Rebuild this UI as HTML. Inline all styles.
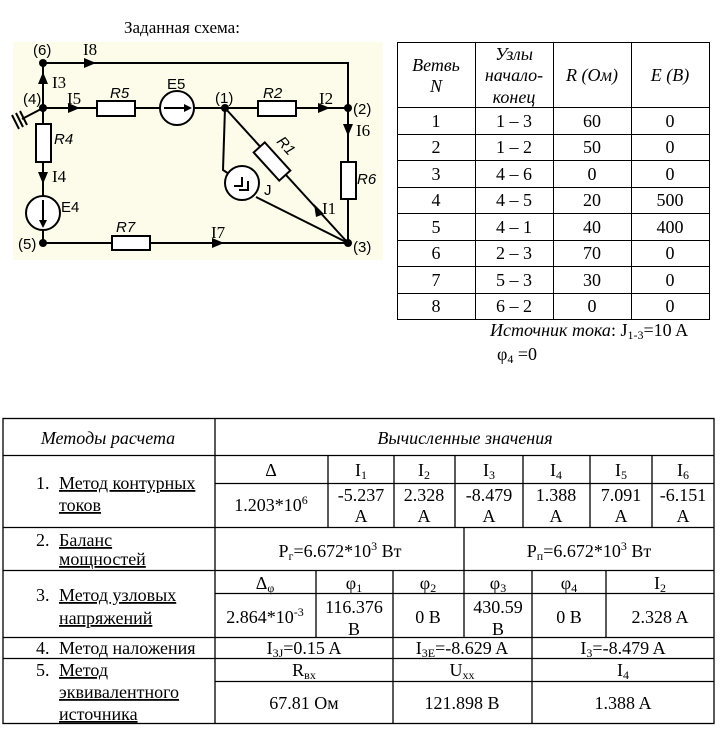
<!DOCTYPE html>
<html><head><meta charset="utf-8"><style>
html,body{margin:0;padding:0;background:#fff;}
svg{display:block;}
.s{font-family:"Liberation Serif","Noto Serif CJK SC",serif;font-size:18px;fill:#000;}
.a{font-family:"Liberation Sans","Noto Sans CJK SC",sans-serif;font-size:15px;fill:#000;}
.i{font-style:italic;}
.sm{font-size:12px;}
</style></head><body>
<svg width="720" height="744" viewBox="0 0 720 744" xmlns="http://www.w3.org/2000/svg">
<text class="s" x="124" y="33" style="font-size:17px">Заданная схема:</text>
<rect x="13" y="42" width="370" height="218" fill="#fdfcea"/>
<g stroke="#000" stroke-width="2" fill="none">
<path d="M43,63 H348 V243 M43,63 V243 H348 M43,108 H348 M225,108 L348,243 M225,108 L223,170 L232,176 M256,197 L348,243"/>
<path d="M43,108 L22,119 M20,111 L27,125 M16,113 L23,127 M12,115 L19,129"/>
</g>
<g fill="#000">
<path d="M84,58 L96,63 L84,68z M38,84 L43,72 L48,84z M68,103 L80,108 L68,113z M318,103 L330,108 L318,113z M343,124 L348,136 L353,124z M38,172 L43,184 L48,172z M212,238 L224,243 L212,248z M314,204 L324,214 L316,217z"/>
<circle cx="43" cy="63" r="4"/><circle cx="43" cy="108" r="4"/><circle cx="43" cy="243" r="4"/><circle cx="225" cy="108" r="4"/><circle cx="348" cy="108" r="4"/><circle cx="348" cy="243" r="4"/>
</g>
<g stroke="#000" stroke-width="2" fill="#fff">
<rect x="97" y="101" width="38" height="15"/>
<rect x="258" y="101" width="38" height="15"/>
<rect x="341" y="162" width="15" height="37"/>
<rect x="36" y="124" width="15" height="38"/>
<rect x="112" y="236" width="38" height="14"/>
<rect x="253" y="154" width="38" height="15" transform="rotate(47.7 272 161.5)"/>
<circle cx="177" cy="108" r="17"/>
<circle cx="43" cy="213" r="17"/>
<circle cx="242" cy="183" r="17"/>
</g>
<g stroke="#000" stroke-width="2" fill="none">
<path d="M164,108 H188 M43,200 V225 M234,186 H242 V177 M239,190 H248 V181"/>
</g>
<path d="M184,104 L192,108 L184,112z M39,220 L43,228 L47,220z" fill="#000"/>
<g class="a">
<text x="33" y="55">(6)</text><text x="23" y="104">(4)</text><text x="18" y="249">(5)</text>
<text x="215" y="103">(1)</text><text x="353" y="114">(2)</text><text x="353" y="252">(3)</text>
<text x="110" y="98" class="i">R5</text><text x="167" y="89">E5</text><text x="263" y="98" class="i">R2</text>
<text x="54" y="144" class="i">R4</text><text x="357" y="184" class="i">R6</text><text x="116" y="232" class="i">R7</text>
<text x="61" y="212">E4</text><text x="264" y="195">J</text>
<text x="0" y="0" class="i" transform="translate(276 142) rotate(47.7)">R1</text>
</g>
<g class="s" style="font-size:17px">
<text x="83" y="55">I8</text><text x="52" y="88">I3</text><text x="67" y="104">I5</text><text x="319" y="104">I2</text>
<text x="356" y="136">I6</text><text x="52" y="182">I4</text><text x="211" y="238">I7</text><text x="322" y="214">I1</text>
</g>
<g stroke="#000" stroke-width="1" fill="none">
<rect x="397.5" y="42.5" width="312" height="277"/>
<path d="M475.5,42 V320 M553.5,42 V320 M631.5,42 V320 M397,107.5 H710 M397,134.5 H710 M397,160.5 H710 M397,187.5 H710 M397,213.5 H710 M397,240.5 H710 M397,266.5 H710 M397,293.5 H710"/>
</g>
<g class="s" text-anchor="middle">
<text x="436" y="71" class="i">Ветвь</text><text x="436" y="92" class="i">N</text>
<text x="514" y="60" class="i">Узлы</text><text x="514" y="81" class="i">начало-</text><text x="514" y="103" class="i">конец</text>
<text x="592" y="81" class="i">R (Ом)</text><text x="670" y="81" class="i">E (B)</text>
<text x="436" y="127">1</text><text x="514" y="127">1 – 3</text><text x="592" y="127">60</text><text x="670" y="127">0</text>
<text x="436" y="153">2</text><text x="514" y="153">1 – 2</text><text x="592" y="153">50</text><text x="670" y="153">0</text>
<text x="436" y="180">3</text><text x="514" y="180">4 – 6</text><text x="592" y="180">0</text><text x="670" y="180">0</text>
<text x="436" y="206">4</text><text x="514" y="206">4 – 5</text><text x="592" y="206">20</text><text x="670" y="206">500</text>
<text x="436" y="233">5</text><text x="514" y="233">4 – 1</text><text x="592" y="233">40</text><text x="670" y="233">400</text>
<text x="436" y="259">6</text><text x="514" y="259">2 – 3</text><text x="592" y="259">70</text><text x="670" y="259">0</text>
<text x="436" y="286">7</text><text x="514" y="286">5 – 3</text><text x="592" y="286">30</text><text x="670" y="286">0</text>
<text x="436" y="312">8</text><text x="514" y="312">6 – 2</text><text x="592" y="312">0</text><text x="670" y="312">0</text>
</g>
<text class="s" x="490" y="336"><tspan font-style="italic">Источник тока</tspan>:  J<tspan class="sm" dy="3">1-3</tspan><tspan dy="-3">=10 A</tspan></text>
<text class="s" x="497" y="360">φ<tspan class="sm" dy="3">4</tspan><tspan dy="-3"> =0</tspan></text>
<g stroke="#000" stroke-width="1.3" fill="none">
<rect x="3" y="418.5" width="711" height="305"/>
<path d="M215,418 V724 M3,455.5 H714 M215,483.5 H714 M3,527.5 H714 M3,570.5 H714 M215,593.5 H714 M3,637.5 H714 M3,658.5 H714 M215,681.5 H714"/>
<path d="M328,455 V527 M394,455 V527 M455,455 V527 M523,455 V527 M590,455 V527 M652,455 V527"/>
<path d="M464,527 V570"/>
<path d="M316,570 V637 M393,570 V637 M464,570 V637 M532,570 V637 M606,570 V637"/>
<path d="M393,637 V724 M532,637 V724"/>
</g>
<g class="s">
<text x="108" y="444" text-anchor="middle" class="i">Методы расчета</text>
<text x="465" y="444" text-anchor="middle" class="i">Вычисленные значения</text>
<text x="36" y="489">1.</text><text x="59" y="489" text-decoration="underline">Метод контурных</text><text x="59" y="511" text-decoration="underline">токов</text>
<text x="36" y="546">2.</text><text x="59" y="546" text-decoration="underline">Баланс</text><text x="59" y="565" text-decoration="underline">мощностей</text>
<text x="36" y="601">3.</text><text x="59" y="601" text-decoration="underline">Метод узловых</text><text x="59" y="624" text-decoration="underline">напряжений</text>
<text x="36" y="654">4.</text><text x="59" y="654">Метод наложения</text>
<text x="36" y="676">5.</text><text x="59" y="676" text-decoration="underline">Метод</text><text x="59" y="698" text-decoration="underline">эквивалентного</text><text x="59" y="720" text-decoration="underline">источника</text>
</g>
<g class="s" text-anchor="middle">
<text x="271" y="476">Δ</text><text x="361" y="476">I<tspan class="sm" dy="3">1</tspan></text><text x="424" y="476">I<tspan class="sm" dy="3">2</tspan></text><text x="489" y="476">I<tspan class="sm" dy="3">3</tspan></text><text x="556" y="476">I<tspan class="sm" dy="3">4</tspan></text><text x="621" y="476">I<tspan class="sm" dy="3">5</tspan></text><text x="683" y="476">I<tspan class="sm" dy="3">6</tspan></text>
<text x="271" y="511">1.203*10<tspan class="sm" dy="-7">6</tspan></text>
<text x="361" y="501">-5.237</text><text x="361" y="522">A</text>
<text x="424" y="501">2.328</text><text x="424" y="522">A</text>
<text x="489" y="501">-8.479</text><text x="489" y="522">A</text>
<text x="556" y="501">1.388</text><text x="556" y="522">A</text>
<text x="621" y="501">7.091</text><text x="621" y="522">A</text>
<text x="683" y="501">-6.151</text><text x="683" y="522">A</text>
<text x="340" y="557">P<tspan class="sm" dy="3">г</tspan><tspan dy="-3">=6.672*10</tspan><tspan class="sm" dy="-7">3</tspan><tspan dy="7"> Вт</tspan></text>
<text x="589" y="557">P<tspan class="sm" dy="3">п</tspan><tspan dy="-3">=6.672*10</tspan><tspan class="sm" dy="-7">3</tspan><tspan dy="7"> Вт</tspan></text>
<text x="265" y="589">Δ<tspan class="sm" dy="3">φ</tspan></text><text x="354" y="589">φ<tspan class="sm" dy="3">1</tspan></text><text x="428" y="589">φ<tspan class="sm" dy="3">2</tspan></text><text x="498" y="589">φ<tspan class="sm" dy="3">3</tspan></text><text x="569" y="589">φ<tspan class="sm" dy="3">4</tspan></text><text x="660" y="589">I<tspan class="sm" dy="3">2</tspan></text>
<text x="265" y="623">2.864*10<tspan class="sm" dy="-7">-3</tspan></text>
<text x="354" y="613">116.376</text><text x="354" y="635">B</text>
<text x="428" y="623">0 B</text>
<text x="498" y="613">430.59</text><text x="498" y="635">B</text>
<text x="569" y="623">0 B</text>
<text x="660" y="623">2.328 A</text>
<text x="304" y="654">I<tspan class="sm" dy="3">3J</tspan><tspan dy="-3">=0.15 A</tspan></text>
<text x="462" y="654">I<tspan class="sm" dy="3">3E</tspan><tspan dy="-3">=-8.629 A</tspan></text>
<text x="623" y="654">I<tspan class="sm" dy="3">3</tspan><tspan dy="-3">=-8.479 A</tspan></text>
<text x="304" y="676">R<tspan class="sm" dy="3">вх</tspan></text>
<text x="462" y="676">U<tspan class="sm" dy="3">хх</tspan></text>
<text x="623" y="676">I<tspan class="sm" dy="3">4</tspan></text>
<text x="304" y="709">67.81 Ом</text><text x="462" y="709">121.898 B</text><text x="623" y="709">1.388 A</text>
</g>
</svg>
</body></html>
